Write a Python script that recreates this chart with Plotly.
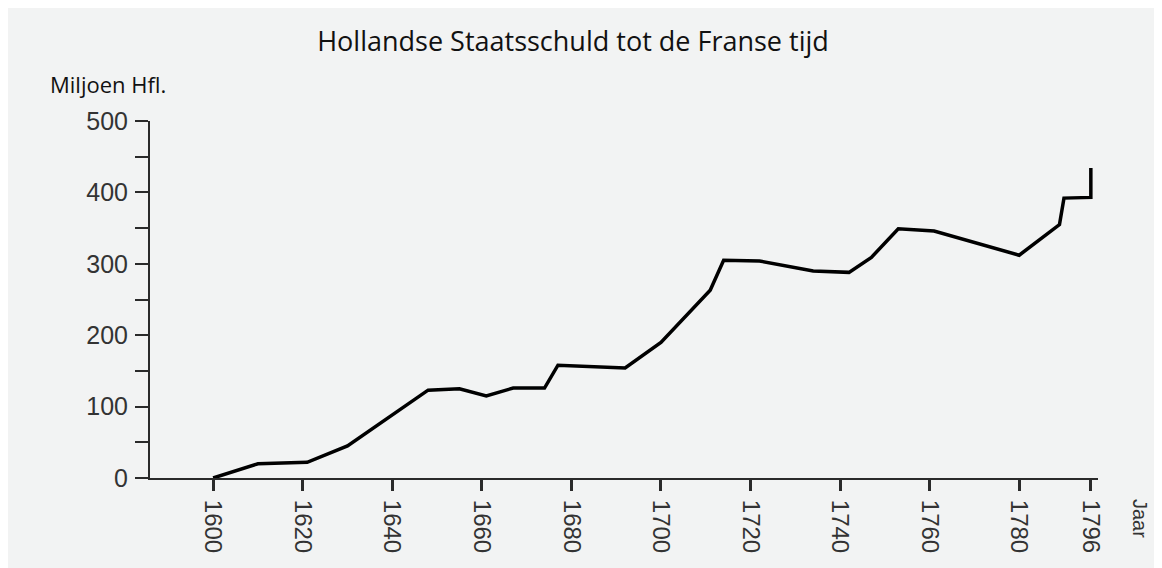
import plotly.graph_objects as go

# Data (year, debt in million guilders)
years = [1600, 1610, 1621, 1630, 1648, 1655, 1661, 1667, 1674, 1677, 1692, 1700,
         1711, 1714, 1722, 1734, 1742, 1747, 1753, 1761, 1780, 1789, 1790, 1796, 1796]
debt = [0, 20, 22, 45, 123, 125, 115, 126, 126, 158, 154, 190,
        263, 305, 304, 290, 288, 309, 349, 346, 312, 355, 392, 393, 434]

x_ticks = [1600, 1620, 1640, 1660, 1680, 1700, 1720, 1740, 1760, 1780, 1796]
y_ticks = [0, 100, 200, 300, 400, 500]
y_minor = [50, 150, 250, 350, 450]

bg = "#f2f3f3"
axis_col = "#2a2a2a"

L, T, PW, PH = 142, 113, 948, 357

fig = go.Figure()
fig.add_trace(go.Scatter(
    x=years, y=debt, mode="lines",
    line=dict(color="black", width=3.5),
    cliponaxis=False, showlegend=False, hoverinfo="x+y",
))

fig.update_layout(
    width=1162, height=568,
    margin=dict(l=L, r=1162 - L - PW, t=T, b=568 - T - PH),
    paper_bgcolor=bg, plot_bgcolor=bg,
    title=dict(
        text="Hollandse Staatsschuld tot de Franse tijd",
        x=(573 - 8) / 1162, xref="container", xanchor="center",
        y=1 - 34 / 568, yref="container", yanchor="middle",
        font=dict(family="Open Sans", size=27, color="#111"),
    ),
    xaxis=dict(
        range=[1585.9, 1797.6],
        tickvals=x_ticks, ticktext=[str(v) for v in x_ticks],
        tickangle=90,
        ticks="outside", ticklen=11, tickwidth=3, tickcolor=axis_col,
        showline=True, linecolor=axis_col, linewidth=2,
        showgrid=False, zeroline=False,
        tickfont=dict(family="Liberation Sans", size=24, color="#333"),
        ticklabelstandoff=4,
    ),
    yaxis=dict(
        range=[0, 500],
        tickvals=y_ticks,
        ticks="outside", ticklen=13, tickwidth=2, tickcolor=axis_col,
        minor=dict(tickvals=y_minor, ticks="outside", ticklen=13, tickwidth=2,
                   tickcolor=axis_col, showgrid=False),
        showline=True, linecolor=axis_col, linewidth=2,
        showgrid=False, zeroline=False,
        tickfont=dict(family="Liberation Sans", size=25, color="#333"),
        ticklabelstandoff=2,
    ),
    annotations=[
        dict(text="Miljoen Hfl.", xref="paper", yref="paper",
             x=(40 - L) / PW, y=(T + PH - 76) / PH,
             xanchor="left", yanchor="middle", showarrow=False,
             font=dict(family="Open Sans", size=22, color="#111")),
        dict(text="Jaar", xref="paper", yref="paper",
             x=(1132 - L) / PW, y=(T + PH - 510) / PH,
             xanchor="center", yanchor="middle", showarrow=False,
             textangle=90,
             font=dict(family="Liberation Sans", size=20, color="#333")),
    ],
)

fig.write_html("out.html")
